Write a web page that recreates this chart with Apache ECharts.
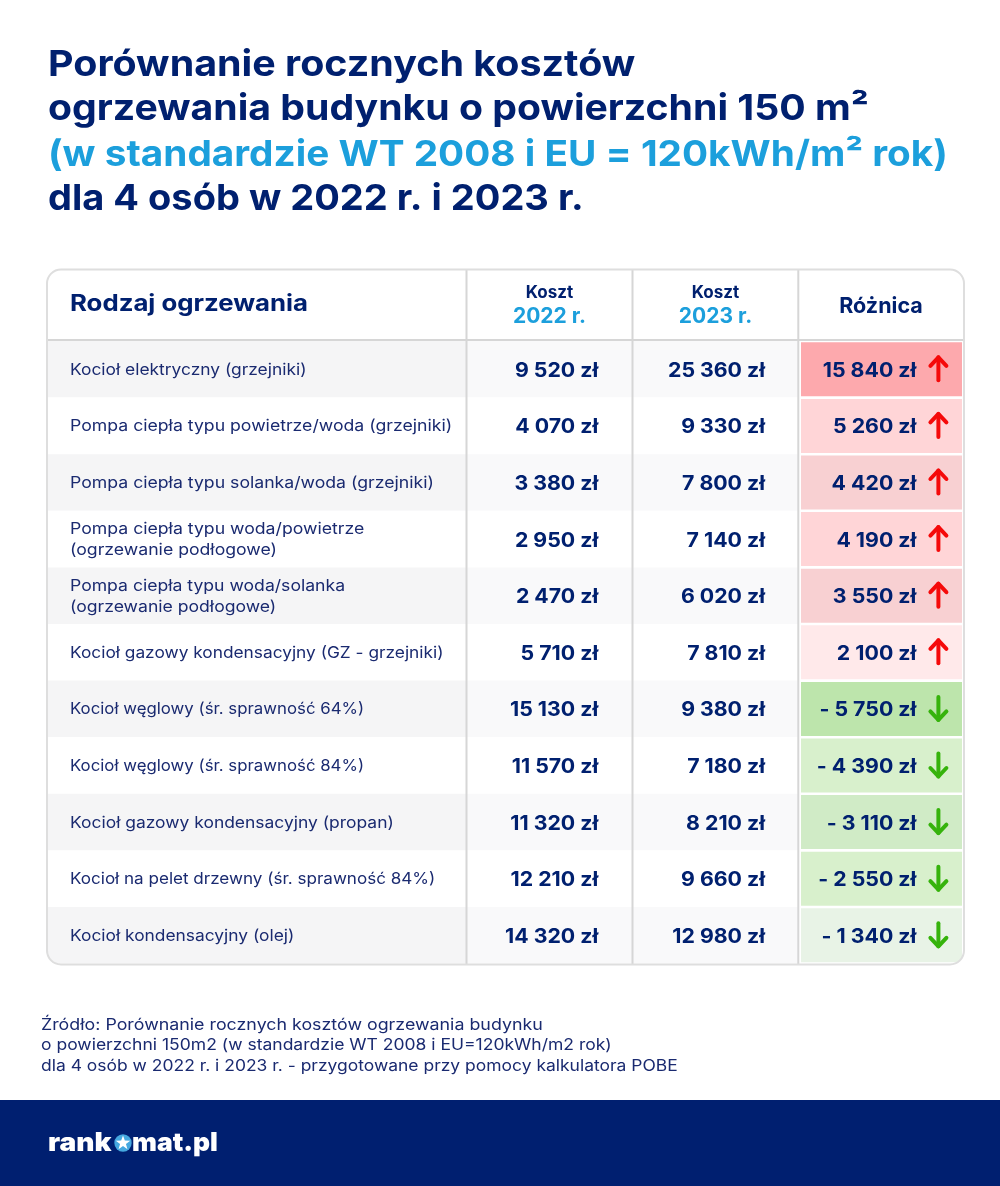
<!DOCTYPE html>
<html><head><meta charset="utf-8">
<style>html,body{margin:0;padding:0;background:#fff}#c{width:1000px;height:1186px}</style>
<script src="https://cdn.jsdelivr.net/npm/echarts@6/dist/echarts.min.js"></script>
</head><body><div id="c"></div>
<script>
const titleLines = ['Porównanie rocznych kosztów','ogrzewania budynku o powierzchni 150 m²','(w standardzie WT 2008 i EU = 120kWh/m² rok)','dla 4 osób w 2022 r. i 2023 r.'];
const headerName = 'Rodzaj ogrzewania';
const headerCost = 'Koszt';
const headerYears = ['2022 r.','2023 r.'];
const headerDiff = 'Różnica';
const categories = [
 'Kocioł elektryczny (grzejniki)',
 'Pompa ciepła typu powietrze/woda (grzejniki)',
 'Pompa ciepła typu solanka/woda (grzejniki)',
 'Pompa ciepła typu woda/powietrze\n(ogrzewanie podłogowe)',
 'Pompa ciepła typu woda/solanka\n(ogrzewanie podłogowe)',
 'Kocioł gazowy kondensacyjny (GZ - grzejniki)',
 'Kocioł węglowy (śr. sprawność 64%)',
 'Kocioł węglowy (śr. sprawność 84%)',
 'Kocioł gazowy kondensacyjny (propan)',
 'Kocioł na pelet drzewny (śr. sprawność 84%)',
 'Kocioł kondensacyjny (olej)'
];
const cost2022 = [9520,4070,3380,2950,2470,5710,15130,11570,11320,12210,14320];
const cost2023 = [25360,9330,7800,7140,6020,7810,9380,7180,8210,9660,12980];
const difference = [15840,5260,4420,4190,3550,2100,-5750,-4390,-3110,-2550,-1340];
const diffColors = ['#fda9ad','#ffd5d7','#f8d0d2','#ffd5d7','#f8d0d2','#ffe9ea','#bde5ac','#d8f0cc','#d0ebc6','#d8f0cc','#e8f3e6'];
const sourceLines = ['Źródło: Porównanie rocznych kosztów ogrzewania budynku','o powierzchni 150m2 (w standardzie WT 2008 i EU=120kWh/m2 rok)','dla 4 osób w 2022 r. i 2023 r. - przygotowane przy pomocy kalkulatora POBE'];

const nameWiden = [1.086,1.104,1.104,1.104,1.100,1.081,1.050,1.050,1.090,1.066,1.085];
const titleWiden = [1.095,1.089,1.076,1.056];
const sourceWiden = [1.143,1.123,1.12];

const NAVY='#00206f', BODY='#1a2a70', CYAN='#1c9fdc', LINE='#d6d6d6', FONT='Inter';
const money = v => (v<0?'- ':'')+String(Math.abs(v)).replace(/\B(?=(\d{3})+$)/g,' ')+' zł';

const gridTop=341, gridBottom=1186-963.6;
const cols=[[48,466],[467,632],[633,798],[799,963]];
const grids=cols.map(c=>({left:c[0],width:c[1]-c[0],top:gridTop,bottom:gridBottom,containLabel:false}));

function yAxis(i,stripe){
  return {type:'category',gridIndex:i,inverse:true,data:categories,
    axisLine:{show:false},axisTick:{show:false},axisLabel:{show:false},
    splitLine:{show:false},
    splitArea:stripe?{show:true,interval:0,areaStyle:{color:[stripe,'#ffffff']}}:{show:false}
  };
}
function xAxis(i,label,margin){
  return {type:'category',gridIndex:i,position:'top',data:[label],
    axisLine:{show:false},axisTick:{show:false},splitLine:{show:false},
    axisLabel:{show:i>0,interval:0,margin,color:NAVY,fontFamily:FONT,
      rich:{a:{fontSize:17,fontWeight:700,color:NAVY,fontFamily:FONT,lineHeight:23},
            b:{fontSize:21,fontWeight:700,color:CYAN,fontFamily:FONT,lineHeight:25},
            c:{fontSize:21.5,fontWeight:700,color:NAVY,fontFamily:FONT,lineHeight:26}}}};
}
const cellData = arr => arr.map((v,i)=>[0,i,v]);
function moneyText(x,y,v){
  return {type:'text',x,y:y+1.5,scaleX:1.065,style:{x:0,y:0,text:money(v),align:'right',verticalAlign:'middle',fill:NAVY,
    font:'700 20px '+FONT}};
}
const nameSeries={type:'custom',xAxisIndex:0,yAxisIndex:0,data:categories.map((n,i)=>[0,i]),encode:{x:0,y:1},
  renderItem(p,api){
    const idx=api.value(1), c=api.coord([0,idx]), w=api.size([1,1])[0];
    return {type:'text',x:c[0]-w/2+22,y:c[1]+0.6,scaleX:nameWiden[idx],
      style:{x:0,y:0,text:categories[idx],align:'left',verticalAlign:'middle',fill:BODY,font:'400 16px '+FONT,lineHeight:21}};
  }};
function costSeries(i,arr,offset){
  return {type:'custom',xAxisIndex:i,yAxisIndex:i,data:cellData(arr),encode:{x:0,y:1},
    renderItem(p,api){
      const c=api.coord([0,api.value(1)]), w=api.size([1,1])[0];
      return moneyText(c[0]+w*offset,c[1],api.value(2));
    }};
}
const diffSeries={type:'custom',xAxisIndex:3,yAxisIndex:3,data:cellData(difference),encode:{x:0,y:1},
  renderItem(p,api){
    const idx=api.value(1), v=api.value(2), c=api.coord([0,idx]), s=api.size([1,1]);
    const w=s[0], h=s[1], ax=c[0]+w*0.35, up=v>0, col=up?'#f50a0a':'#36b30c';
    const tip=up?c[1]-12:c[1]+11, end=up?c[1]+11:c[1]-12, head=up?8.5:-8.5;
    return {type:'group',children:[
      {type:'rect',shape:{x:c[0]-w/2+2,y:c[1]-h/2+1.3,width:w-3,height:h-2.6},style:{fill:diffColors[idx]}},
      moneyText(c[0]+w*0.215,c[1],v),
      {type:'line',shape:{x1:ax,y1:tip,x2:ax,y2:end},style:{stroke:col,lineWidth:4,lineCap:'round'}},
      {type:'polyline',shape:{points:[[ax-8,tip+head],[ax,tip],[ax+8,tip+head]]},style:{stroke:col,fill:'none',lineWidth:4,lineCap:'round',lineJoin:'round'}}
    ]};
  }};

const starPts=[];
for(let k=0;k<10;k++){const r=k%2?3.1:7.6,a=-Math.PI/2+k*Math.PI/5;starPts.push([123+r*Math.cos(a),1143+r*Math.sin(a)]);}

const T=35;
const textEl=(x,y,sx,text,font,fill)=>({type:'text',z:T,x,y,scaleX:sx,style:{x:0,y:0,text,verticalAlign:'middle',fill,font}});
const graphic=[
 {type:'rect',z:T,silent:true,shape:{x:42,y:264,width:927,height:705,r:19},style:{fill:'none',stroke:'#fff',lineWidth:10}},
 {type:'rect',z:T+1,silent:true,shape:{x:47,y:269.5,width:917,height:695,r:14},style:{fill:'none',stroke:'#dedede',lineWidth:2}},
 {type:'line',z:T,shape:{x1:47,y1:340,x2:964,y2:340},style:{stroke:LINE,lineWidth:2}},
 ...[466.5,632.5,798.3].map(x=>({type:'line',z:T,shape:{x1:x,y1:270,x2:x,y2:964},style:{stroke:LINE,lineWidth:2}})),
 {type:'rect',z:1,shape:{x:0,y:1100,width:1000,height:86},style:{fill:'#001f70'}},
 ...titleLines.map((t,i)=>textEl(48,[65,109,155,199][i],titleWiden[i],t,'700 36px '+FONT,i===2?CYAN:NAVY)),
 textEl(70,304,1.12,headerName,'700 23px '+FONT,NAVY),
 ...sourceLines.map((t,i)=>textEl(41,1025+i*20.5,sourceWiden[i],t,'400 15.6px '+FONT,BODY)),
 textEl(48,1143,1.08,'rank','900 26px '+FONT,'#fff'),
 textEl(132,1143,1.015,'mat.pl','900 26px '+FONT,'#fff'),
 {type:'circle',z:T,shape:{cx:123,cy:1143,r:8.7},style:{fill:'#45a8e0'}},
 {type:'polygon',z:T+1,shape:{points:starPts},style:{fill:'#fff'}}
];

const chart=echarts.init(document.getElementById('c'),null,{renderer:'canvas'});
chart.setOption({
  animation:false,backgroundColor:'#fff',
  grid:grids,
  xAxis:[xAxis(0,''),
         xAxis(1,'{a|'+headerCost+'}\n{b|'+headerYears[0]+'}',12),
         xAxis(2,'{a|'+headerCost+'}\n{b|'+headerYears[1]+'}',12),
         xAxis(3,'{c|'+headerDiff+'}',21)],
  yAxis:[yAxis(0,'#f5f5f6'),yAxis(1,'#f9f9fa'),yAxis(2,'#f9f9fa'),yAxis(3,null)],
  series:[nameSeries,costSeries(1,cost2022,0.295),costSeries(2,cost2023,0.3),diffSeries],
  graphic
});
</script></body></html>
